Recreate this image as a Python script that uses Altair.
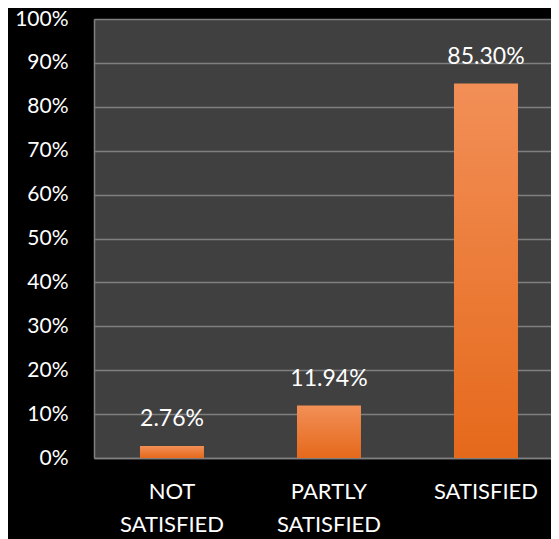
import altair as alt
import pandas as pd

categories = ["NOT SATISFIED", "PARTLY SATISFIED", "SATISFIED"]
values = [0.0276, 0.1194, 0.8530]
y_ticks = [0, 0.1, 0.2, 0.3, 0.4, 0.5, 0.6, 0.7, 0.8, 0.9, 1.0]

df = pd.DataFrame({"category": categories, "value": values})

FONT = "Lato"
GRID = "#7f7f7f"

x_scale = alt.Scale(paddingInner=0.5924, paddingOuter=0.2516, align=0.582)

x_enc = alt.X(
    "category:N",
    sort=categories,
    title=None,
    scale=x_scale,
    axis=alt.Axis(
        labelAngle=0,
        labelExpr="split(datum.label, ' ')",
        labelColor="white",
        labelFont=FONT,
        labelFontSize=22,
        labelLineHeight=33,
        labelPadding=23,
        labelBaseline="top",
        ticks=False,
        domain=True,
        domainColor=GRID,
        domainWidth=1.5,
        grid=False,
    ),
)

y_enc = alt.Y(
    "value:Q",
    title=None,
    scale=alt.Scale(domain=[0, 1], nice=False),
    axis=alt.Axis(
        values=y_ticks,
        format=".0%",
        labelColor="white",
        labelFont=FONT,
        labelFontSize=21,
        labelPadding=26,
        ticks=False,
        domain=True,
        domainColor=GRID,
        domainWidth=1.5,
        grid=True,
        gridColor=GRID,
        gridWidth=1.5,
    ),
)

bars = alt.Chart(df).mark_bar(
    color=alt.Gradient(
        gradient="linear",
        stops=[
            alt.GradientStop(color="#f28f57", offset=0),
            alt.GradientStop(color="#e5691b", offset=1),
        ],
        x1=0, x2=0, y1=0, y2=1,
    )
).encode(x=x_enc, y=y_enc)

labels = alt.Chart(df).mark_text(
    color="white",
    font=FONT,
    fontSize=23,
    baseline="alphabetic",
    dy=-20,
).encode(
    x=alt.X("category:N", sort=categories),
    y=alt.Y("value:Q"),
    text=alt.Text("value:Q", format=".2%"),
)

chart = (
    alt.layer(bars, labels)
    .properties(
        width=457,
        height=439,
        background="black",
        padding={"left": 86, "top": 11, "right": 0, "bottom": 81},
        autosize=alt.AutoSizeParams(type="none"),
    )
    .configure_view(fill="#404040", stroke=None)
)

chart.save("out.html", embed_options={"renderer": "svg", "actions": False})
